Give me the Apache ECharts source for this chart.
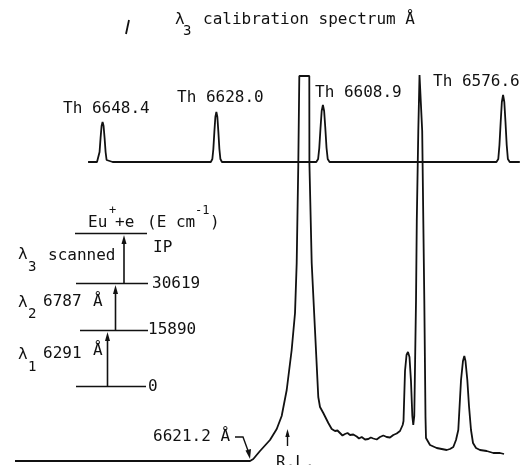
<!DOCTYPE html>
<html>
<head>
<meta charset="utf-8">
<script src="https://cdn.jsdelivr.net/npm/echarts@6/dist/echarts.min.js"></script>
<style>
  html, body { margin: 0; padding: 0; background: #fff; }
  #main { width: 525px; height: 465px; }
</style>
</head>
<body>
<div id="main"></div>
<script>
// calibration trace (Th lines), wavelength in Å, signal in arbitrary units
var calibWavelength = [
  6651.0, 6650.2,
  6649.4, 6649.12, 6648.94, 6648.76, 6648.58, 6648.4, 6648.22, 6648.04, 6647.86, 6647.68, 6647.41,
  6646.6, 6638.0, 6630.0,
  6629.0, 6628.72, 6628.54, 6628.36, 6628.18, 6628.0, 6627.82, 6627.64, 6627.46, 6627.28, 6627.0,
  6626.2, 6618.0, 6611.0,
  6610.09, 6609.76, 6609.55, 6609.33, 6609.12, 6608.9, 6608.68, 6608.47, 6608.25, 6608.04, 6607.71,
  6606.9, 6592.0, 6578.7,
  6577.79, 6577.46, 6577.25, 6577.03, 6576.82, 6576.6, 6576.38, 6576.17, 6575.95, 6575.74, 6575.41,
  6574.6, 6573.6
];
var calibSignal = [
  299, 299,
  299, 301, 309, 323, 335, 339, 335, 323, 309, 301, 299,
  299, 299, 299,
  299, 302, 312, 329, 344, 349, 344, 329, 312, 302, 299,
  299, 299, 299,
  299, 302, 313, 333, 350, 356, 350, 333, 313, 302, 299,
  299, 299, 299,
  299, 302, 316, 339, 359, 366, 359, 339, 316, 302, 299,
  299, 299
];

// lambda3 scan of Eu
var scanWavelength = [
  6664.10, 6621.97, 6621.38, 6620.18, 6618.39, 6617.18, 6616.29, 6615.39, 6614.50,
  6613.90, 6613.60, 6613.31, 6613.13, 6611.34, 6611.32, 6610.91, 6610.32, 6609.73,
  6609.42, 6608.83, 6607.93, 6607.32, 6606.73, 6606.29, 6605.84, 6605.39, 6604.94,
  6604.49, 6604.04, 6603.74, 6603.45, 6603.15, 6602.84, 6602.43, 6601.95, 6601.66,
  6601.35, 6601.05, 6600.76, 6600.31, 6599.87, 6599.26, 6598.67, 6598.07, 6597.47,
  6596.87, 6596.28, 6595.67, 6595.08, 6594.60, 6594.45, 6594.18, 6593.91, 6593.65,
  6593.38, 6593.11, 6592.87, 6592.70, 6592.52, 6592.39, 6592.21, 6592.07, 6591.80,
  6591.58, 6591.37, 6591.10, 6590.90, 6590.72, 6590.51, 6590.42, 6589.70, 6588.50,
  6586.71, 6586.12, 6585.52, 6585.04, 6584.63, 6584.14, 6583.79, 6583.55, 6583.34,
  6583.01, 6582.71, 6582.35, 6581.99, 6581.45, 6580.74, 6579.54, 6578.35, 6577.15,
  6576.43
];
var scanSignal = [
  0, 0, 2, 10, 21, 32, 45, 71, 111,
  148, 198, 298, 385, 385, 298, 198, 131, 64,
  54, 48, 38, 32, 30, 30.5, 28, 25.5, 27,
  28, 26, 24.5, 26.5, 27, 24.5, 22.5, 24, 25,
  21.5, 20.5, 22, 23.5, 22.5, 21.5, 24, 25.5, 24,
  23.5, 26, 27.5, 30, 36, 40, 90, 106, 109,
  104, 80, 45, 36, 45, 44, 160, 240, 330,
  386, 386, 330, 240, 160, 44, 23, 16, 13,
  11, 12, 14, 21, 31, 81, 100, 105, 100,
  81, 55, 31, 18, 13, 11, 10, 8, 8,
  7
];

var thLabels = ['Th 6648.4', 'Th 6628.0', 'Th 6608.9', 'Th 6576.6'];
var levelLabels = ['IP', '30619', '15890', '0'];

var ink = '#111';
var mono = '"DejaVu Sans Mono", monospace';

function txt(x, y, s, size) {
  return {
    type: 'text', x: x, y: y,
    style: { text: s, fontSize: size || 16, fontFamily: mono, fill: ink, align: 'left', verticalAlign: 'middle' }
  };
}
function seg(points, w) {
  return { type: 'polyline', shape: { points: points }, style: { stroke: ink, lineWidth: w || 1.6, fill: null } };
}
function head(points) {
  return { type: 'polygon', shape: { points: points }, style: { fill: ink } };
}

function pairs(xs, ys) {
  var out = [];
  for (var i = 0; i < xs.length; i++) out.push([xs[i], ys[i]]);
  return out;
}

var myChart = echarts.init(document.getElementById('main'));

var graphics = [
  // title
  txt(175, 20, 'λ'), txt(183, 31, '3', 14), txt(203, 20, 'calibration spectrum Å'),
  // Th labels
  txt(63, 109, thLabels[0]), txt(177, 98, thLabels[1]), txt(315, 92.5, thLabels[2]), txt(433, 81.5, thLabels[3]),
  // energy levels
  seg([[75, 233.5], [147, 233.5]]),
  seg([[76, 283.5], [148, 283.5]]),
  seg([[80, 330.5], [148, 330.5]]),
  seg([[76, 386.5], [146, 386.5]]),
  seg([[107.5, 386.5], [107.5, 337]]), head([[107.5, 332], [105, 341], [110, 341]]),
  seg([[115.5, 330.5], [115.5, 290]]), head([[115.5, 285], [113, 294], [118, 294]]),
  seg([[124, 283.5], [124, 240]]), head([[124, 235], [121.5, 244], [126.5, 244]]),
  txt(88, 222.5, 'Eu'), txt(109, 211, '+', 12), txt(115, 222.5, '+e'),
  txt(147, 222.5, '(E cm'), txt(195, 211, '-1', 12), txt(210, 222.5, ')'),
  txt(153, 248, levelLabels[0]), txt(152, 284, levelLabels[1]), txt(148, 330, levelLabels[2]), txt(148, 387, levelLabels[3]),
  txt(18, 255, 'λ'), txt(28, 267, '3', 14), txt(48, 256, 'scanned'),
  txt(18, 303, 'λ'), txt(28, 314, '2', 14), txt(43, 302, '6787'), txt(93, 302, 'Å'),
  txt(18, 355, 'λ'), txt(28, 367, '1', 14), txt(43, 354, '6291'), txt(93, 351, 'Å'),
  // onset and reference-line markers
  txt(153, 437, '6621.2 Å'),
  seg([[235, 437], [243, 437], [248.5, 452]], 1.4), head([[250, 459], [245.5, 450.5], [251, 449]]),
  txt(276, 463, 'R.L.'),
  seg([[287.5, 446], [287.5, 436]], 1.4), head([[287.5, 429], [285.3, 437], [289.7, 437]]),
  // speck from the original scan
  seg([[126, 34], [129, 20]], 1.8)
];

myChart.setOption({
  animation: false,
  backgroundColor: '#fff',
  grid: { left: 0, right: 0, top: 0, bottom: 0 },
  xAxis: { type: 'value', min: 6572.67, max: 6666.79, inverse: true, show: false },
  yAxis: { type: 'value', min: -4, max: 461, show: false },
  series: [
    {
      type: 'line', name: 'calibration', data: pairs(calibWavelength, calibSignal),
      showSymbol: false, lineStyle: { color: ink, width: 1.8 }
    },
    {
      type: 'line', name: 'scan', data: pairs(scanWavelength, scanSignal),
      showSymbol: false, lineStyle: { color: ink, width: 1.8 }
    }
  ],
  graphic: graphics
});
</script>
</body>
</html>
